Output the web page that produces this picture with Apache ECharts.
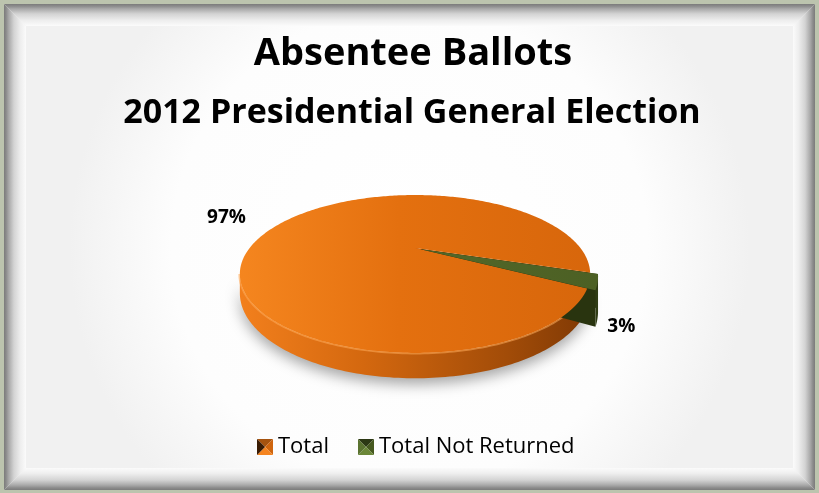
<!DOCTYPE html>
<html>
<head>
<meta charset="utf-8">
<script src="https://cdn.jsdelivr.net/npm/echarts@6/dist/echarts.min.js"></script>
<style>
  html, body { margin: 0; padding: 0; background: #bcc4ae; }
  #chart { width: 819px; height: 493px; }
</style>
</head>
<body>
<div id="chart"></div>
<script>
// ---- data ----
const categories = ['Total', 'Total Not Returned'];
const values = [97, 3];
const titleLines = ['Absentee Ballots', '2012 Presidential General Election'];

// ---- 3D pie view (perspective projection of a tilted disc) ----
const VIEW = { cx: 415, cy: 248, rx: 165.4, ry: 70.4, persp: 0.329, depth: 17, startDeg: 119 };
const FONT = 'Open Sans';

const SLICE_STYLE = [
  {
    top: [['#f5861f', 0], ['#e4700f', 0.45], ['#d7660b', 1]],
    side: [['#f3801d', 0], ['#d4680f', 0.35], ['#a24c08', 0.75], ['#7c3704', 1]],
    wall: '#9a4607', explode: 0, depthScale: 1, shadow: true, rim: 'rgba(255,172,90,0.55)',
    label: { r: 1.45, level: 0, dx: -4, dy: 4 }
  },
  {
    top: [['#5a6f2e', 0], ['#4c6024', 1]],
    side: [['#3d4e1c', 0], ['#2f3c14', 1]],
    wall: '#29340f', explode: 0.04, depthScale: 1.8, shadow: false, rim: null,
    label: { r: 1.1, level: 1, dx: 3, dy: 5 }
  }
];

const total = values.reduce((a, b) => a + b, 0);
const RAD = Math.PI / 180;

function project(x, z, level) {
  const w = 1 - VIEW.persp * z;
  return [VIEW.cx + VIEW.rx * x / w, VIEW.cy + (VIEW.ry * z + VIEW.depth * level) / w];
}
function rimPoint(deg, r, off, level) {
  const t = deg * RAD;
  return project(r * Math.sin(t) + off[0], -r * Math.cos(t) + off[1], level);
}
function sliceRange(i, v) {
  let before = 0;
  for (let k = 0; k < i; k++) before += values[k];
  const a0 = VIEW.startDeg + 360 * before / total;
  return [a0, a0 + 360 * v / total];
}
function explodeOffset(i, a0, a1) {
  const e = SLICE_STYLE[i].explode;
  const m = (a0 + a1) / 2 * RAD;
  return [e * Math.sin(m), -e * Math.cos(m)];
}
function arc(a0, a1, off, level) {
  const n = Math.max(2, Math.ceil(Math.abs(a1 - a0)));
  const pts = [];
  for (let s = 0; s <= n; s++) pts.push(rimPoint(a0 + (a1 - a0) * s / n, 1, off, level));
  return pts;
}
function hGrad(stops, x0, x1) {
  return new echarts.graphic.LinearGradient(x0, 0, x1, 0,
    stops.map(s => ({ offset: s[1], color: s[0] })), true);
}

const visLo = Math.acos(-VIEW.persp) / RAD;
const visHi = 360 - visLo;

function renderSides(i) {
  return function (params, api) {
    const st = SLICE_STYLE[i];
    const bot = st.depthScale;
    const [a0, a1] = sliceRange(i, api.value(0));
    const off = explodeOffset(i, a0, a1);
    const children = [];
    // radial walls
    [a0, a1].forEach(a => {
      children.push({
        type: 'polygon',
        shape: { points: [project(off[0], off[1], 0), rimPoint(a, 1, off, 0), rimPoint(a, 1, off, bot), project(off[0], off[1], bot)] },
        style: { fill: st.wall }
      });
    });
    // outer curved side, only the part facing the viewer
    [-360, 0, 360].forEach(k => {
      const lo = Math.max(a0, visLo + k), hi = Math.min(a1, visHi + k);
      if (hi > lo) {
        const pts = arc(lo, hi, off, 0).concat(arc(hi, lo, off, bot));
        const style = { fill: hGrad(st.side, VIEW.cx - 178, VIEW.cx + 182) };
        if (st.shadow) {
          style.shadowColor = 'rgba(0,0,0,0.35)';
          style.shadowBlur = 14;
          style.shadowOffsetY = 6;
        }
        children.push({ type: 'polygon', shape: { points: pts }, style });
        if (st.rim) {
          children.push({
            type: 'polyline', shape: { points: arc(lo, hi, off, 0) },
            style: { stroke: st.rim, lineWidth: 3, fill: null }
          });
        }
      }
    });
    return { type: 'group', children };
  };
}

function renderTop(i) {
  return function (params, api) {
    const st = SLICE_STYLE[i];
    const v = api.value(0);
    const [a0, a1] = sliceRange(i, v);
    const off = explodeOffset(i, a0, a1);
    const pts = [project(off[0], off[1], 0)].concat(arc(a0, a1, off, 0));
    const mid = (a0 + a1) / 2;
    const lp = rimPoint(mid, st.label.r, off, st.label.level * st.depthScale);
    return {
      type: 'group',
      children: [
        { type: 'polygon', shape: { points: pts }, style: { fill: hGrad(st.top, VIEW.cx - 178, VIEW.cx + 182) } },
        {
          type: 'text', z2: 10,
          style: {
            x: lp[0] + st.label.dx, y: lp[1] + st.label.dy,
            text: Math.round(v / total * 100) + '%',
            fill: '#000', font: 'bold 19px "' + FONT + '"',
            align: 'center', verticalAlign: 'middle'
          }
        }
      ]
    };
  };
}

// ---- bevelled frame ----
const F = { l: 4, t: 4, r: 815, b: 490, w: 22 };
const bevelStops = [
  { offset: 0, color: '#7b7b7b' }, { offset: 0.1, color: '#8c8c8c' },
  { offset: 0.22, color: '#a9a9a9' }, { offset: 0.45, color: '#d3d3d3' },
  { offset: 0.75, color: '#eeeeee' }, { offset: 1, color: '#fbfbfb' }
];
function bevel(points, x0, y0, x1, y1) {
  return {
    type: 'polygon', silent: true, z: -10,
    shape: { points },
    style: { fill: new echarts.graphic.LinearGradient(x0, y0, x1, y1, bevelStops, true) }
  };
}
const frameGraphics = [
  { type: 'rect', silent: true, z: -11, shape: { x: F.l, y: F.t, width: F.r - F.l, height: F.b - F.t },
    style: { fill: new echarts.graphic.RadialGradient(0.5, 0.5, 0.7, [{ offset: 0, color: '#ffffff' }, { offset: 0.7, color: '#fdfdfd' }, { offset: 1, color: '#f1f1f1' }]) } },
  bevel([[F.l, F.t], [F.l + F.w, F.t + F.w], [F.l + F.w, F.b - F.w], [F.l, F.b]], F.l, 0, F.l + F.w, 0),
  bevel([[F.l, F.t], [F.r, F.t], [F.r - F.w, F.t + F.w], [F.l + F.w, F.t + F.w]], 0, F.t, 0, F.t + F.w),
  bevel([[F.r, F.t], [F.r, F.b], [F.r - F.w, F.b - F.w], [F.r - F.w, F.t + F.w]], F.r, 0, F.r - F.w, 0),
  bevel([[F.l, F.b], [F.r, F.b], [F.r - F.w, F.b - F.w], [F.l + F.w, F.b - F.w]], 0, F.b, 0, F.b - F.w)
];

// ---- legend markers (pyramid style) ----
function pyramidIcon(c) {
  const svg = '<svg xmlns="http://www.w3.org/2000/svg" width="16" height="16">' +
    '<polygon points="0,0 16,0 8,8" fill="' + c[0] + '"/>' +
    '<polygon points="16,0 16,16 8,8" fill="' + c[1] + '"/>' +
    '<polygon points="0,16 16,16 8,8" fill="' + c[2] + '"/>' +
    '<polygon points="0,0 0,16 8,8" fill="' + c[3] + '"/></svg>';
  return 'image://data:image/svg+xml;charset=utf-8,' + encodeURIComponent(svg);
}
const legendIcons = [
  pyramidIcon(['#a5530f', '#cf650e', '#f5841f', '#3a1c04']),
  pyramidIcon(['#2c3814', '#46591f', '#6b8738', '#5b7330'])
];

const series = [];
categories.forEach((name, i) => {
  series.push({ type: 'custom', name, coordinateSystem: 'none', z: 2 + i, renderItem: renderSides(i), data: [[values[i]]], silent: true });
});
categories.forEach((name, i) => {
  series.push({ type: 'custom', name, coordinateSystem: 'none', z: 4 + i, renderItem: renderTop(i), data: [[values[i]]], silent: true });
});

const chart = echarts.init(document.getElementById('chart'), null, { renderer: 'canvas' });
chart.setOption({
  backgroundColor: 'transparent',
  animation: false,
  graphic: frameGraphics,
  title: [
    { text: titleLines[0], left: 408, top: 30, textAlign: 'center',
      textStyle: { fontFamily: FONT, fontWeight: 'bold', fontSize: 38, color: '#000' } },
    { text: titleLines[1], left: 407, top: 91, textAlign: 'center',
      textStyle: { fontFamily: FONT, fontWeight: 'bold', fontSize: 34, color: '#000' } }
  ],
  legend: {
    left: 252, top: 431, itemWidth: 16, itemHeight: 16, itemGap: 29,
    data: categories.map((name, i) => ({ name, icon: legendIcons[i] })),
    textStyle: { fontFamily: FONT, fontSize: 22, color: '#000' }
  },
  series
});
</script>
</body>
</html>
